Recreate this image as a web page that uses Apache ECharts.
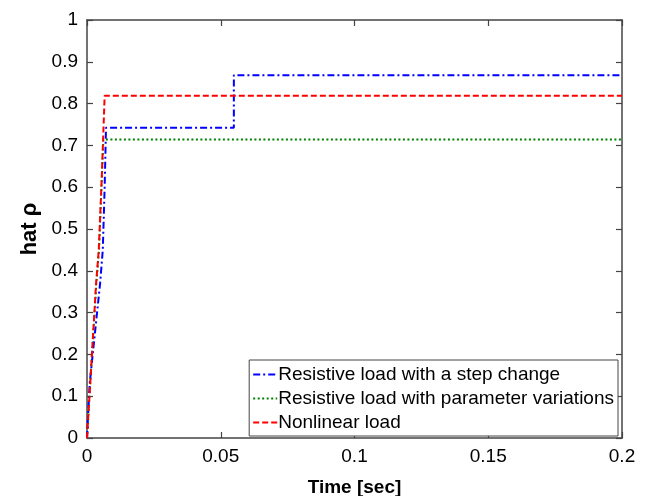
<!DOCTYPE html>
<html><head><meta charset="utf-8">
<script src="https://cdn.jsdelivr.net/npm/echarts@6/dist/echarts.min.js"></script>
<style>html,body{margin:0;padding:0;background:#fff}#c{width:646px;height:496px}</style>
</head><body><div id="c"></div>
<script>
var seriesNames = ['Resistive load with a step change','Resistive load with parameter variations','Nonlinear load'];
var stepChange = [[0,0],[0.001,0.13],[0.0049,0.37],[0.0059,0.45],[0.0066,0.6],[0.0071,0.742],[0.0549,0.742],[0.0549,0.868],[0.2,0.868]];
var paramVar = [[0,0],[0.0012,0.13],[0.0035,0.37],[0.0045,0.45],[0.0061,0.714],[0.2,0.714]];
var nonlinear = [[0,0],[0.0012,0.13],[0.0034,0.37],[0.0044,0.45],[0.0055,0.62],[0.0066,0.819],[0.2,0.819]];
var xTicks = [0,0.05,0.1,0.15,0.2];
var yTicks = [0,0.1,0.2,0.3,0.4,0.5,0.6,0.7,0.8,0.9,1];

var font = 'Liberation Sans, Arial, sans-serif';
var axColor = '#444';
function fmtX(v){ return v===0?'0':String(+v.toFixed(2)); }
function fmtY(v){ return v===0?'0':(v===1?'1':String(+v.toFixed(1))); }
var chart = echarts.init(document.getElementById('c'));
var baseAxis = {
  axisLine:{show:true,onZero:false,lineStyle:{color:axColor,width:1.5}},
  axisTick:{show:true,inside:true,length:6,lineStyle:{color:axColor,width:1.2}},
  splitLine:{show:false}
};
chart.setOption({
  animation:false,
  backgroundColor:'#fff',
  grid:{left:87,right:24,top:20,bottom:58,containLabel:false,outerBoundsMode:'none'},
  xAxis:[
    Object.assign({type:'value',min:0,max:0.2,interval:0.05,position:'bottom',
      name:'Time [sec]',nameLocation:'middle',nameGap:40,
      nameTextStyle:{fontFamily:font,fontSize:19,fontWeight:'bold',color:'#000'},
      axisLabel:{fontFamily:font,fontSize:19,color:'#000',margin:9,formatter:fmtX}},baseAxis),
    Object.assign({type:'value',min:0,max:0.2,interval:0.05,position:'top',axisLabel:{show:false}},baseAxis)
  ],
  yAxis:[
    Object.assign({type:'value',min:0,max:1,interval:0.1,position:'left',
      name:'hat ρ',nameLocation:'middle',nameGap:45,nameRotate:90,
      nameTextStyle:{fontFamily:font,fontSize:22,fontWeight:'bold',color:'#000'},
      axisLabel:{fontFamily:font,fontSize:19,color:'#000',margin:9,formatter:fmtY}},baseAxis),
    Object.assign({type:'value',min:0,max:1,interval:0.1,position:'right',axisLabel:{show:false}},baseAxis)
  ],
  legend:{
    orient:'vertical',right:28,bottom:60,
    data:seriesNames,
    backgroundColor:'#fff',borderColor:'#444',borderWidth:1,
    padding:[5,4,4,3],itemGap:5,itemWidth:24,itemHeight:18,
    itemStyle:{opacity:0},
    textStyle:{fontFamily:font,fontSize:19,color:'#000',padding:[0,0,0,-4]}
  },
  series:[
    {name:seriesNames[0],type:'line',data:stepChange,showSymbol:false,symbol:'none',
     lineStyle:{color:'#0000ff',width:2,type:[7,3,2,3]},itemStyle:{color:'#0000ff'},z:3},
    {name:seriesNames[1],type:'line',data:paramVar,showSymbol:false,symbol:'none',
     lineStyle:{color:'#008000',width:2,type:[2,2.5]},itemStyle:{color:'#008000'},z:2},
    {name:seriesNames[2],type:'line',data:nonlinear,showSymbol:false,symbol:'none',
     lineStyle:{color:'#ff0000',width:2,type:[6,3]},itemStyle:{color:'#ff0000'},z:4}
  ]
});
</script></body></html>
